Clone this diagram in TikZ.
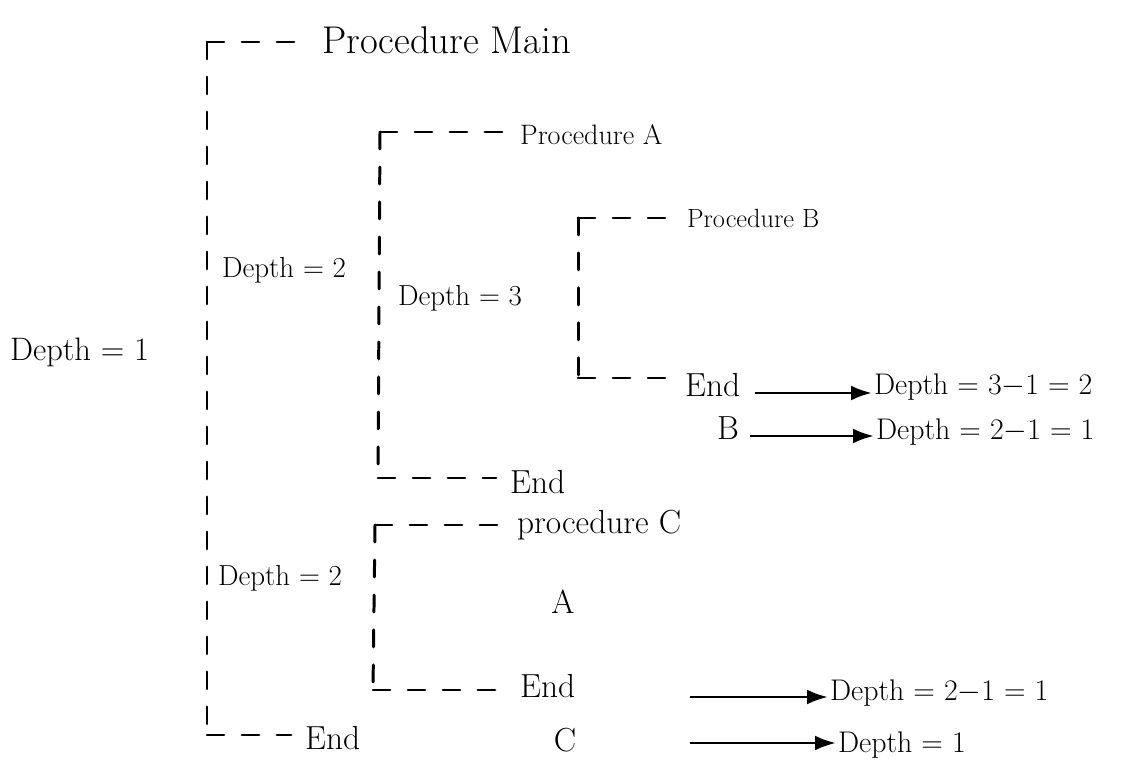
\documentclass[tikz,border=0pt]{standalone}
\usetikzlibrary{arrows.meta}
\begin{document}
\begin{tikzpicture}[x=0.02cm,y=-0.02cm,
  txt/.style={font=\fontsize{#1}{#1}\selectfont, inner sep=1pt, anchor=west},
  lbl/.style={font=\fontsize{#1}{#1}\selectfont, inner sep=1pt},
  dline/.style={line width=1.7pt, dash pattern=on 0.34cm off 0.36cm, line cap=round},
  hline/.style={dline, shorten >=0.24cm},
  arr/.style={line width=1.7pt, -{Latex[length=0.42cm,width=0.3cm]}}]
\useasboundingbox (0,0) rectangle (1136,776);

% procedure headers and ends
\node[txt=22] (pMain) at (320,40) {Procedure Main};
\node[txt=16] (pA) at (518,135) {Procedure A};
\node[txt=15] (pB) at (685,218) {Procedure B};
\node[txt=19] (endB) at (683,385) {End};
\node[lbl=19] (labB) at (728,428) {B};
\node[txt=19] (endA) at (508,482) {End};
\node[txt=19] (pC) at (515,525) {procedure C};
\node[lbl=19] (labA) at (563,602) {A};
\node[txt=19] (endC) at (518,686) {End};
\node[lbl=19] (labC) at (565,740) {C};
\node[txt=19] (endMain) at (303,738) {End};

% depth labels
\node[txt=18.5] (d1) at (8,352) {Depth = 1};
\node[txt=16.5] (d2a) at (220,270) {Depth = 2};
\node[txt=16.5] (d3) at (396,298) {Depth = 3};
\node[txt=16.5] (d2b) at (216,578) {Depth = 2};

% depth changes on leaving a procedure
\node[txt=17] (r1) at (872,387) {Depth = 3$-$1 = 2};
\node[txt=17] (r2) at (874,432) {Depth = 2$-$1 = 1};
\node[txt=17] (r3) at (828,693) {Depth = 2$-$1 = 1};
\node[txt=17] (r4) at (836,745) {Depth = 1};

% bracket corners
\coordinate (mT) at (207,42);  \coordinate (mB) at (207,735);
\coordinate (aT) at (380,132); \coordinate (aB) at (378,478);
\coordinate (bT) at (578,218); \coordinate (bB) at (578,378);
\coordinate (cT) at (375,525); \coordinate (cB) at (373,690);

% dashed brackets
\foreach \t/\b/\h/\e in {mT/mB/pMain/endMain, aT/aB/pA/endA, bT/bB/pB/endB, cT/cB/pC/endC}{
  \draw[hline] (\t) -- (\t -| \h.west);
  \draw[dline] (\t) -- (\b);
  \draw[hline] (\b) -- (\b -| \e.west);
}

% arrows
\coordinate (s1) at (755,393);
\coordinate (s2) at (750,436);
\coordinate (s3) at (690,697);
\coordinate (s4) at (690,743);
\draw[arr] (s1) -- (s1 -| r1.west);
\draw[arr] (s2) -- (s2 -| r2.west);
\draw[arr] (s3) -- (s3 -| r3.west);
\draw[arr] (s4) -- (s4 -| r4.west);
\end{tikzpicture}
\end{document}
